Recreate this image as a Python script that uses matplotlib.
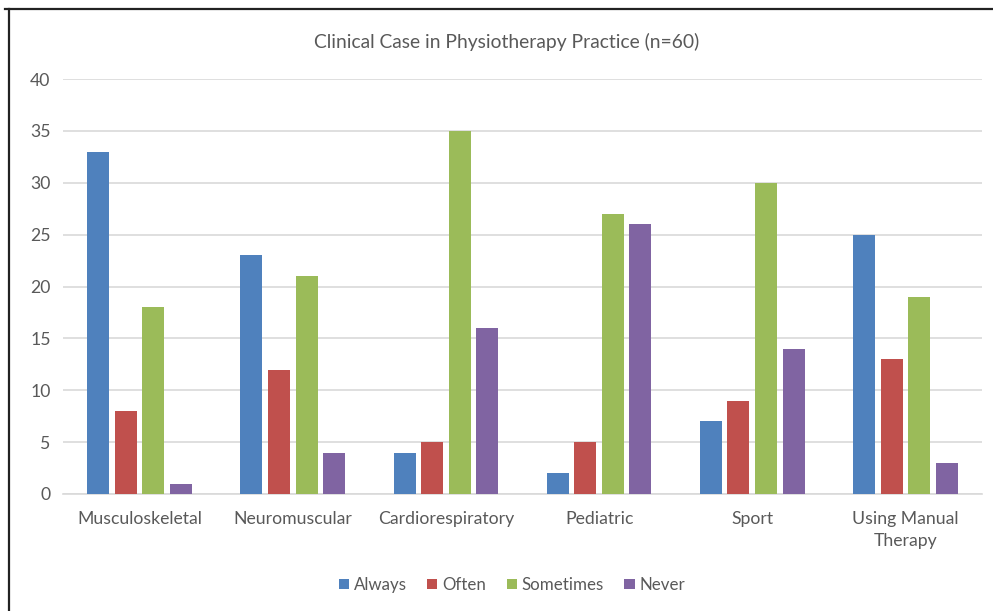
import matplotlib

matplotlib.use("Agg")
import matplotlib.pyplot as plt
import numpy as np
from matplotlib.lines import Line2D

categories = ["Musculoskeletal", "Neuromuscular", "Cardiorespiratory",
              "Pediatric", "Sport", "Using Manual\nTherapy"]
always = [33, 23, 4, 2, 7, 25]
often = [8, 12, 5, 5, 9, 13]
sometimes = [18, 21, 35, 27, 30, 19]
never = [1, 4, 16, 26, 14, 3]

series = [("Always", always, "#4F81BD"),
          ("Often", often, "#C0504D"),
          ("Sometimes", sometimes, "#9BBB59"),
          ("Never", never, "#8064A2")]

plt.rcParams["font.family"] = ["Lato", "DejaVu Sans"]
text_color = "#595959"

W, H = 993, 611
fig = plt.figure(figsize=(W / 100, H / 100), dpi=100)
ax = fig.add_axes([63 / W, (H - 494) / H, (982 - 63) / W, (494 - 79) / H])

x = np.arange(len(categories))
bar_w = 0.144
pitch = 0.18
for i, (name, vals, color) in enumerate(series):
    ax.bar(x + (i - 1.5) * pitch, vals, width=bar_w, color=color,
           label=name, zorder=3)

ax.set_xlim(-0.5, len(categories) - 0.5)
ax.set_ylim(0, 40)
ax.set_yticks(range(0, 41, 5))
ax.set_xticks(x)
ax.set_xticklabels(categories, linespacing=1.45)
ax.tick_params(axis="both", length=0, colors=text_color, labelsize=12.7)
ax.tick_params(axis="x", pad=12)
ax.tick_params(axis="y", pad=9)
ax.grid(axis="y", color="#D9D9D9", linewidth=1.2, zorder=0)
for side in ["top", "right", "left"]:
    ax.spines[side].set_visible(False)
ax.spines["bottom"].set_color("#D9D9D9")
ax.spines["bottom"].set_linewidth(1.2)

fig.text(507 / W, 1 - 42 / H, "Clinical Case in Physiotherapy Practice (n=60)",
         ha="center", va="center", fontsize=13.9, color=text_color)

fig.legend(loc="center", bbox_to_anchor=(512 / W, 1 - 585 / H), ncol=4,
           frameon=False, fontsize=12.2, labelcolor=text_color,
           handlelength=0.6, handleheight=0.6, handletextpad=0.3,
           columnspacing=1.2)

# chart border (top and left edges visible in the reference)
fig.add_artist(Line2D([5 / W, 1], [1 - 9 / H, 1 - 9 / H], color="#222222",
                      linewidth=1.6, transform=fig.transFigure))
fig.add_artist(Line2D([9 / W, 9 / W], [0, 1 - 9 / H], color="#222222",
                      linewidth=1.6, transform=fig.transFigure))

fig.savefig("out.png", dpi=100)
